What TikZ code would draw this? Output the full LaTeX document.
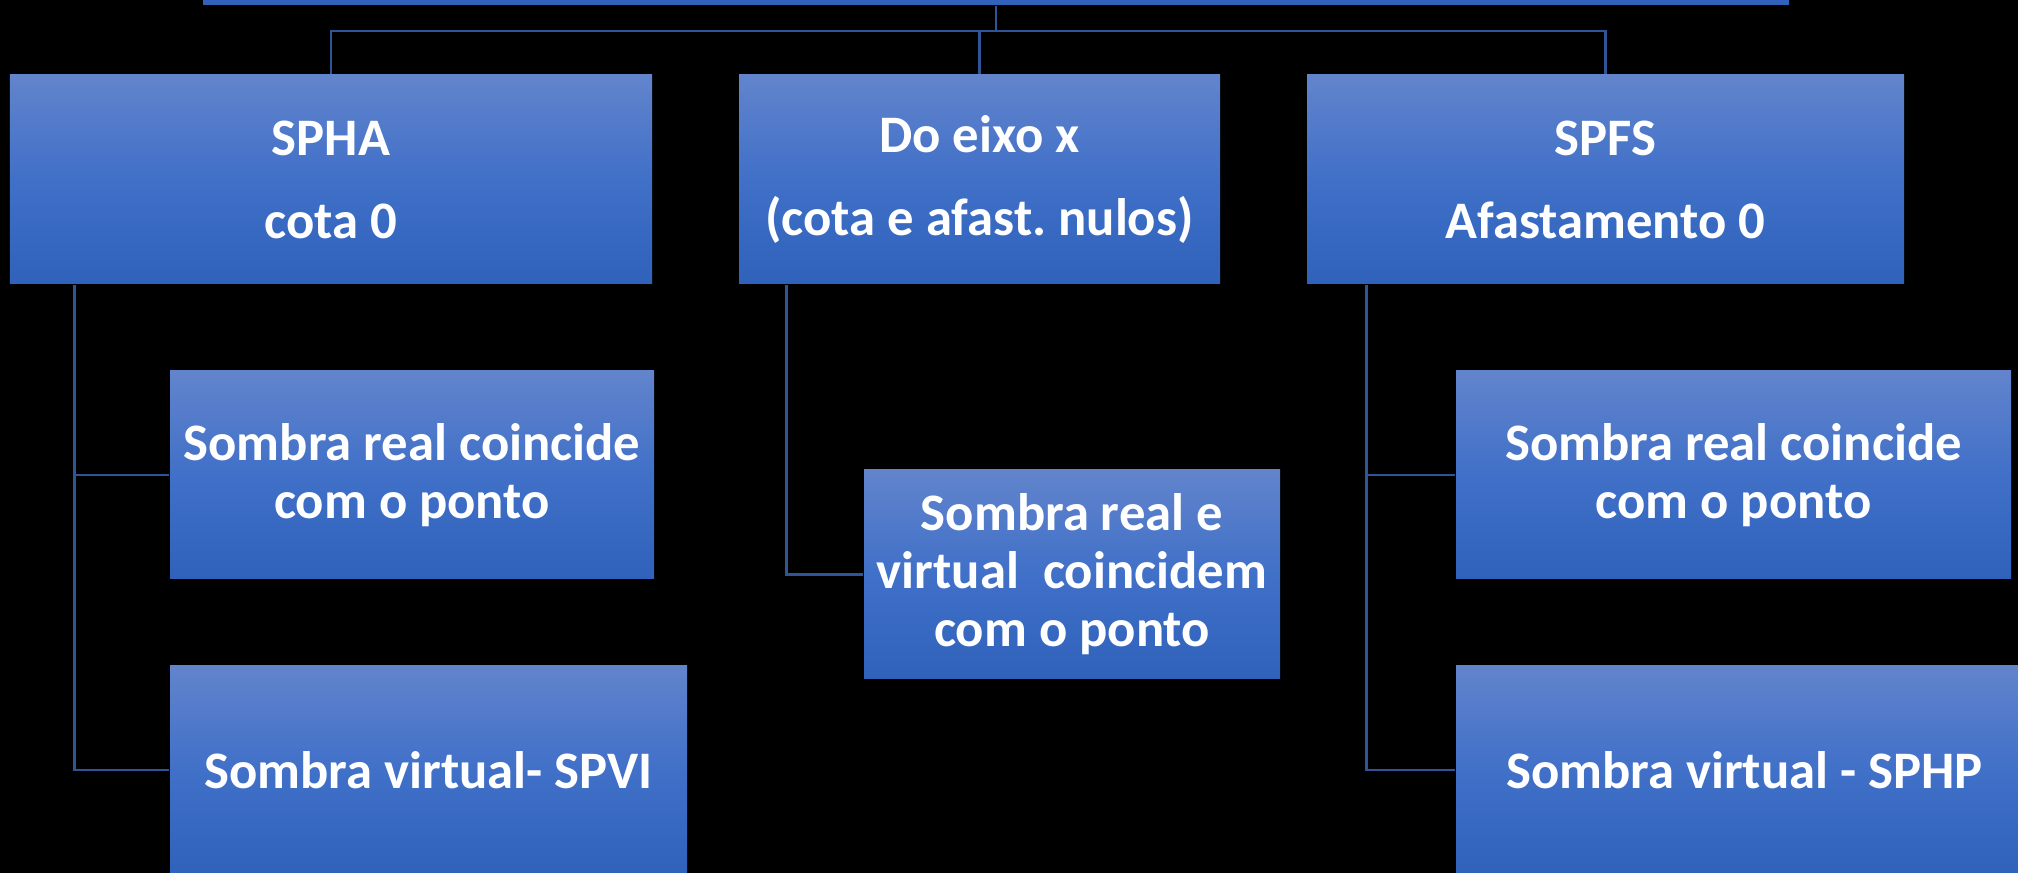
\documentclass[tikz,border=0pt]{standalone}
\usepackage{fontspec}
\setmainfont{Carlito}
\usetikzlibrary{
    positioning
}

\definecolor{boxtop}{RGB}{98,132,204}
\definecolor{boxmid}{RGB}{64,112,200}
\definecolor{boxbot}{RGB}{48,98,187}
\definecolor{linkblue}{RGB}{47,85,151}

\begin{document}
\begin{tikzpicture}[
    box/.style={
        top color=boxtop,
        bottom color=boxbot,
        middle color=boxmid,
        text=white,
        align=center,
        inner sep=0pt,
        minimum height=2.09cm,
        font=\fontsize{15}{23.6}\selectfont\bfseries
    },
    leaf/.style={
        box,
        minimum height=2.08cm,
        font=\fontsize{15}{16.5}\selectfont\bfseries
    },
    link/.style={draw=linkblue, line width=0.7pt}
]

% ================= BACKGROUND =================
\useasboundingbox (0,0) rectangle (20.18,8.73);
\clip (0,0) rectangle (20.18,8.73);
\fill[black] (0,0) rectangle (20.18,8.73);

% ================= ROOT =================
\node[box, minimum width=15.86cm, minimum height=1.6cm] (top) at (9.96,9.48) {};

% ================= FIRST LEVEL =================
\node[box, minimum width=6.42cm] (spha) at (3.31,6.935) {SPHA\\cota 0};
\node[box, minimum width=4.81cm] (eixo) at (9.795,6.935) {Do eixo x\\(cota e afast.\ nulos)};
\node[box, minimum width=5.97cm] (spfs) at (16.055,6.935) {SPFS\\Afastamento 0};

\coordinate (split) at (9.96,8.42);
\draw[link] (top.south) -- (split);
\draw[link] (split) -| (spha.north);
\draw[link] (split) -| (eixo.north);
\draw[link] (split) -| (spfs.north);

% ================= SECOND LEVEL =================
% ---- SPHA branch
\node[leaf, minimum width=4.84cm] (spha1) at (4.12,3.98) {Sombra real coincide\\com o ponto};
\node[leaf, minimum width=5.17cm] (spha2) at (4.285,1.03) {Sombra virtual- SPVI};

% ---- Eixo x branch
\node[leaf, minimum width=4.16cm, minimum height=2.09cm] (eixo1) at (10.72,2.985)
{Sombra real e\\virtual\ \ coincidem\\com o ponto};

% ---- SPFS branch
\node[leaf, minimum width=5.55cm] (spfs1) at (17.335,3.98) {Sombra real coincide\\com o ponto};
\node[leaf, minimum width=5.77cm] (spfs2) at (17.445,1.03) {Sombra virtual - SPHP};

% ================= CONNECTORS =================
\draw[link] ([xshift=0.65cm]spha.south west) |- (spha1.west);
\draw[link] ([xshift=0.65cm]spha.south west) |- (spha2.west);
\draw[link] ([xshift=0.48cm]eixo.south west) |- (eixo1.west);
\draw[link] ([xshift=0.60cm]spfs.south west) |- (spfs1.west);
\draw[link] ([xshift=0.60cm]spfs.south west) |- (spfs2.west);

\end{tikzpicture}
\end{document}
